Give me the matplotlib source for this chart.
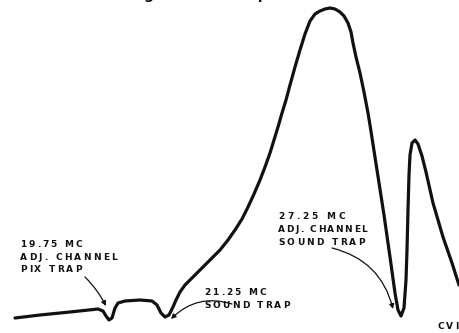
import matplotlib
matplotlib.use('Agg')
import matplotlib.pyplot as plt

# IF response curve (x position, depth from top edge)
pos = [15, 40, 70, 98, 103, 106, 109, 112, 115, 118, 125, 140, 152, 157, 161, 165, 169, 173,
       176, 180, 185, 195, 203, 212, 220, 228, 235, 242, 248, 254, 260, 265, 270, 274, 278, 282,
       286, 290, 295, 300, 305, 310, 315, 320, 325, 330, 335, 340, 344, 348, 351, 353, 356, 360,
       364, 368, 370, 377, 384, 390, 395, 398, 401, 404, 406, 407, 408, 409, 410, 412, 415, 418,
       422, 426, 433, 443, 452, 459]
depth = [318, 315, 312, 309, 311, 316, 320, 318, 308, 303, 301, 300, 301, 305, 313, 317, 315, 307,
         300, 292, 285, 275, 267, 258, 250, 240, 230, 219, 207, 194, 180, 167, 153, 140, 127, 113,
         100, 85, 67, 50, 34, 21, 14, 11, 9, 8, 9, 12, 16, 23, 32, 43, 57, 73,
         92, 113, 125, 170, 215, 257, 293, 310, 316, 308, 280, 250, 210, 175, 155, 143, 140, 144,
         156, 172, 203, 237, 263, 285]

# annotations: (lines, left x, top of each line, right end of each line)
notes = [
    (["19.75 MC", "ADJ. CHANNEL", "PIX TRAP"], 20, [240, 253, 265], [82, 117, 82]),
    (["21.25 MC", "SOUND TRAP"], 204, [288, 301], [266, 290]),
    (["27.25 MC", "ADJ. CHANNEL", "SOUND TRAP"], 278, [212, 225, 238], [345, 367, 365]),
]
# arrows: (tail, head, bend)
arrows = [
    ((85, 277), (106, 306), -0.08),
    ((232, 304), (171, 319), 0.3),
    ((332, 248), (393, 309), -0.3),
]

fig = plt.figure(figsize=(4.59, 3.33), dpi=100)
ax = fig.add_axes([0, 0, 1, 1])
ax.set_xlim(0, 459)
ax.set_ylim(333, 0)
ax.axis('off')

ax.plot(pos, depth, color='#111111', lw=2.3, solid_joinstyle='round', solid_capstyle='round')

renderer = fig.canvas.get_renderer()


def lettered(x0, x1, y, s, size=6.5):
    # hand lettering is widely spaced: measure each letter, spread gaps evenly
    items = []
    for ch in s:
        t = ax.text(0, y, ch, fontsize=size, fontweight='bold', color='#111111',
                    ha='left', va='top', family='DejaVu Sans')
        items.append((t, t.get_window_extent(renderer).width))
    gap = (x1 - x0 - sum(w for _, w in items)) / max(len(items) - 1, 1)
    x = x0
    for t, w in items:
        t.set_x(x)
        x += w + gap


for lines, x0, tops, ends in notes:
    for txt, top, end in zip(lines, tops, ends):
        lettered(x0, end, top, txt)

for tail, head, rad in arrows:
    ax.annotate('', xy=head, xytext=tail,
                arrowprops=dict(arrowstyle='-|>', color='#111111', lw=0.9,
                                mutation_scale=7, shrinkA=0, shrinkB=0,
                                connectionstyle='arc3,rad=%s' % rad))

lettered(437, 459, 322, 'CVI')
ax.text(243, -0.5, 'Figure 2.  IF Response Curve', fontsize=10, fontweight='bold',
        ha='center', va='baseline', color='#111111')

fig.savefig('out.png', dpi=100, facecolor='white')
